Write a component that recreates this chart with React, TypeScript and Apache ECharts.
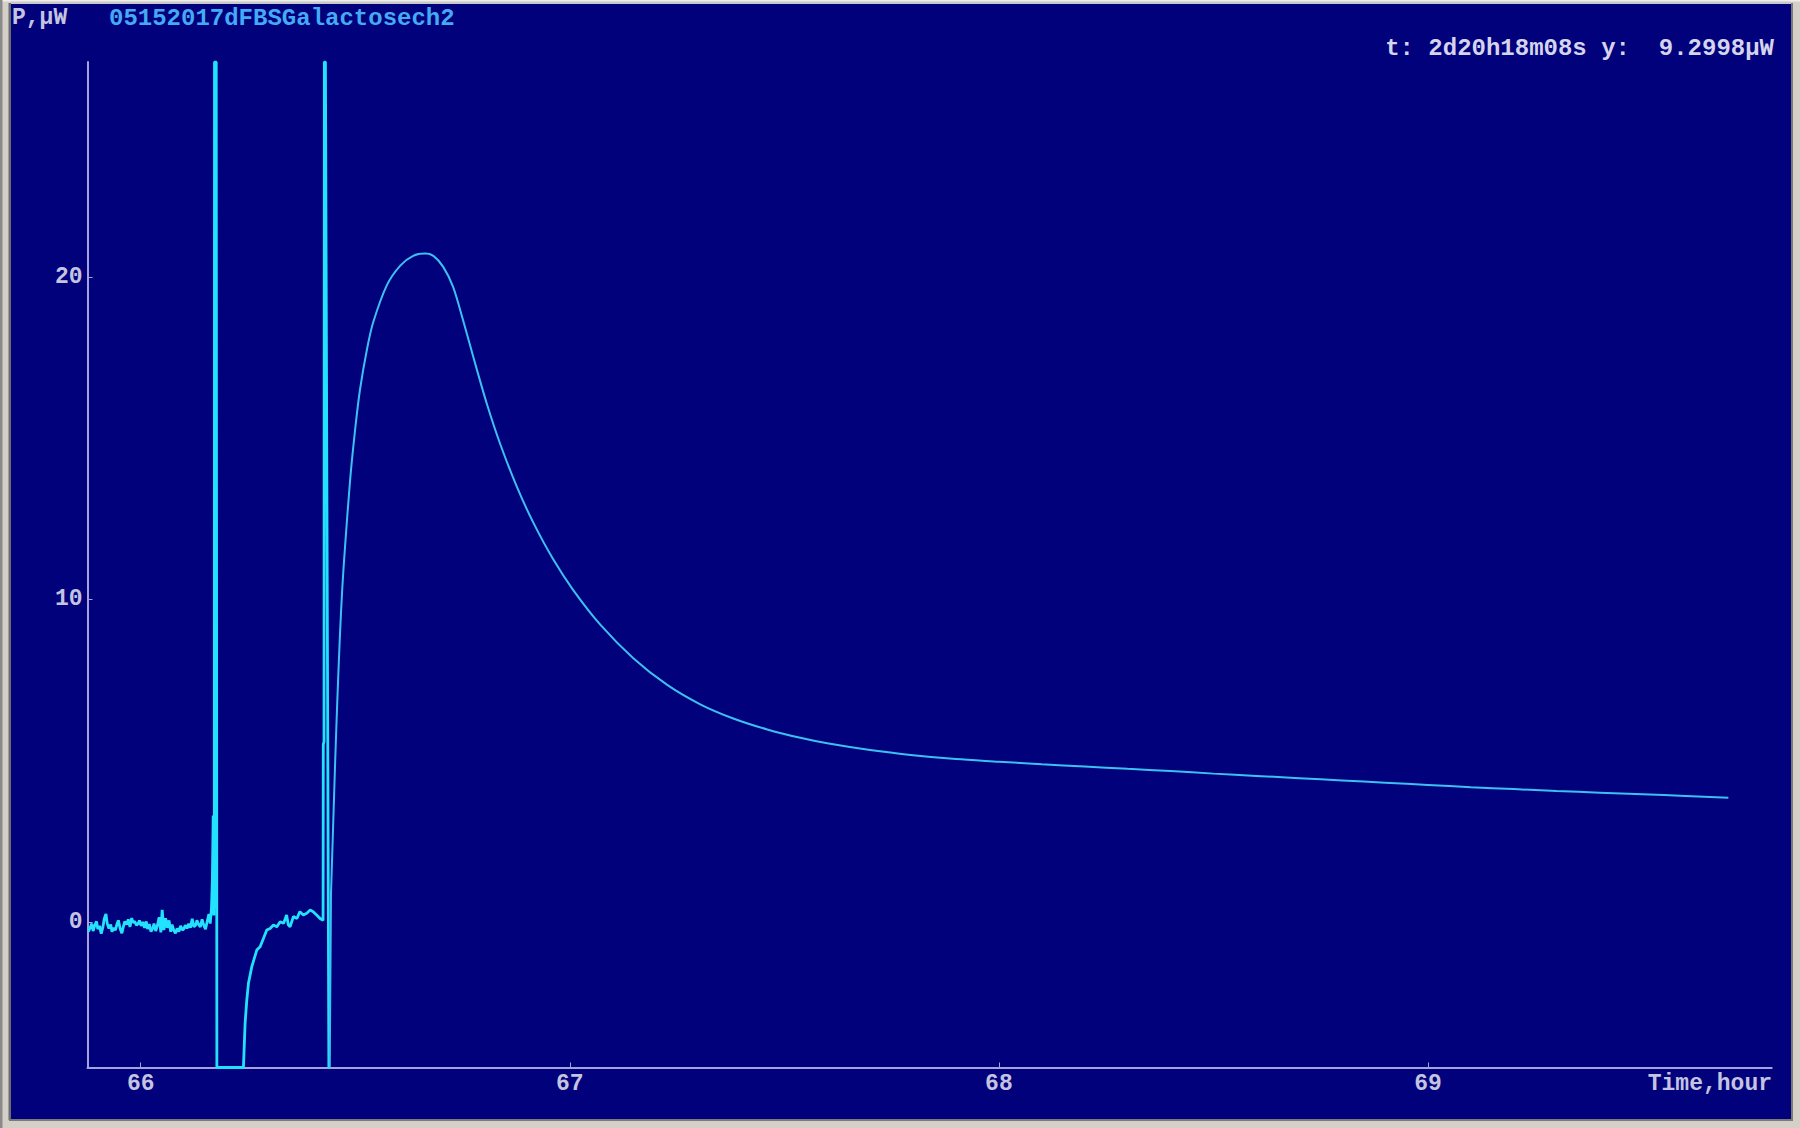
import React, { useEffect, useRef } from "react";
import * as echarts from "echarts";

// ---- Data (time in hours, power in µW) ----
const Y_MIN = -4.51;
const Y_MAX = 26.66;

const xTickValues = [66, 67, 68, 69];
const yTickValues = [0, 10, 20];

// baseline noise, first injection spike, recovery and second spike
const preSegment: [number, number][] = [
  [65.878, -0.3], [65.882, -0.18], [65.886, -0.05], [65.889, -0.28], [65.893, -0.1],
  [65.897, 0.02], [65.9, -0.22], [65.904, -0.12], [65.908, -0.36], [65.912, -0.15],
  [65.915, 0.1], [65.919, 0.25], [65.922, -0.05], [65.926, -0.2], [65.93, -0.08],
  [65.933, -0.3], [65.937, -0.18], [65.941, -0.25], [65.945, -0.05], [65.948, 0.05],
  [65.952, -0.2], [65.956, -0.35], [65.96, -0.12], [65.963, 0.02], [65.967, -0.08],
  [65.971, 0.08], [65.975, -0.15], [65.979, 0.12], [65.982, -0.02], [65.986, 0.02],
  [65.99, -0.1], [65.994, -0.05], [65.997, 0.05], [66.001, -0.12], [66.005, 0.0],
  [66.009, -0.18], [66.013, 0.02], [66.016, -0.22], [66.02, -0.06], [66.024, -0.3],
  [66.028, -0.2], [66.031, -0.05], [66.035, -0.28], [66.039, -0.1], [66.043, 0.15],
  [66.047, -0.32], [66.05, 0.38], [66.054, -0.25], [66.058, 0.12], [66.062, -0.18],
  [66.066, 0.05], [66.07, -0.3], [66.073, -0.08], [66.077, -0.25], [66.081, -0.35],
  [66.085, -0.2], [66.089, -0.3], [66.093, -0.12], [66.097, -0.25], [66.1, -0.22],
  [66.104, -0.1], [66.108, -0.2], [66.112, -0.05], [66.116, -0.18], [66.12, 0.1],
  [66.124, -0.15], [66.128, -0.1], [66.131, 0.05], [66.135, -0.08], [66.139, -0.15],
  [66.143, 0.08], [66.147, -0.1], [66.151, -0.22], [66.155, 0.02], [66.159, 0.25],
  [66.162, -0.05], [66.165, 0.45], [66.167, 1.3], [66.169, 3.3], [66.1705, 0.2],
  [66.1715, 1.5], [66.172, Y_MAX], [66.176, Y_MAX], [66.1775, Y_MIN], [66.2394, Y_MIN],
  [66.2433, -3.14], [66.2472, -2.42], [66.2511, -1.9], [66.2588, -1.39], [66.2705, -0.87],
  [66.2783, -0.77], [66.286, -0.51], [66.2938, -0.25], [66.3016, -0.2], [66.3094, -0.09],
  [66.317, -0.15], [66.325, 0.01], [66.333, -0.04], [66.34, 0.22], [66.344, -0.09],
  [66.348, -0.15], [66.356, 0.17], [66.364, 0.11], [66.371, 0.32], [66.379, 0.22],
  [66.387, 0.27], [66.395, 0.37], [66.402, 0.32], [66.41, 0.22], [66.418, 0.11],
  [66.425, 0.05], [66.4255, 5.5], [66.4272, 5.6], [66.428, Y_MAX], [66.4305, Y_MAX],
  [66.4385, Y_MIN], [66.4405, Y_MIN],
];

// steep onset of the main peak
const riseSegment: [number, number][] = [
  [66.4405, Y_MIN], [66.4435, 0.9], [66.4485, 3.0], [66.453, 4.9],
];

// main heat-flow peak and decay
const mainSegment: [number, number][] = [
  [66.453, 4.9], [66.458, 6.8], [66.464, 8.8], [66.47, 10.4], [66.476, 11.6],
  [66.488, 13.7], [66.5, 15.3], [66.511, 16.5], [66.528, 17.8], [66.542, 18.6],
  [66.574, 19.75], [66.605, 20.35], [66.635, 20.65], [66.663, 20.72], [66.682, 20.65],
  [66.705, 20.31], [66.728, 19.69], [66.751, 18.67], [66.775, 17.52], [66.807, 16.05],
  [66.838, 14.81], [66.877, 13.48], [66.915, 12.38], [66.961, 11.25], [67.008, 10.29],
  [67.071, 9.22], [67.148, 8.18], [67.227, 7.35], [67.304, 6.75], [67.381, 6.31],
  [67.46, 5.97], [67.537, 5.71], [67.6, 5.54], [67.7, 5.33], [67.8, 5.17],
  [67.9, 5.05], [68.0, 4.97], [68.1, 4.89], [68.2, 4.82], [68.3, 4.75],
  [68.4, 4.68], [68.5, 4.6], [68.6, 4.53], [68.7, 4.46], [68.8, 4.39],
  [68.9, 4.32], [69.0, 4.25], [69.1, 4.18], [69.2, 4.12], [69.3, 4.06],
  [69.4, 4.01], [69.5, 3.96], [69.6, 3.91], [69.7, 3.85],
];

const yUnitText = "P,µW";
const fileTitle = "05152017dFBSGalactosech2";
const cursorText = "t: 2d20h18m08s y:  9.2998µW";
const xAxisTitle = "Time,hour";

const NAVY = "#01017c";
const AXIS = "#a4a4dc";
const LABEL = "#c4c4e0";
const CURVE = "#3cc0f2";
const FONT = "'Liberation Mono', 'DejaVu Sans Mono', monospace";

export default function App() {
  const ref = useRef<HTMLDivElement>(null);

  useEffect(() => {
    if (!ref.current) return;
    const chart = echarts.init(ref.current, undefined, { renderer: "svg" });
    const frame = "#d4d0c8";
    const labelStyle = {
      color: LABEL,
      fontFamily: FONT,
      fontSize: 23,
      fontWeight: "bold",
      margin: 5,
      formatter: (v: number) => String(Math.round(v)),
    };
    chart.setOption({
      animation: false,
      backgroundColor: NAVY,
      grid: { left: 87.5, right: 28.3, top: 62, bottom: 60.5 },
      xAxis: {
        type: "value",
        min: 65.876,
        max: 69.801,
        axisLine: { show: true, onZero: false, lineStyle: { color: AXIS, width: 2 } },
        axisTick: {
          show: true,
          inside: true,
          length: 5,
          customValues: xTickValues,
          lineStyle: { color: AXIS, width: 1 },
        },
        axisLabel: { ...labelStyle, customValues: xTickValues },
        splitLine: { show: false },
      },
      yAxis: {
        type: "value",
        min: Y_MIN,
        max: Y_MAX,
        axisLine: { show: true, onZero: false, lineStyle: { color: AXIS, width: 2 } },
        axisTick: {
          show: true,
          inside: true,
          length: 5,
          customValues: yTickValues,
          lineStyle: { color: AXIS, width: 1 },
        },
        axisLabel: { ...labelStyle, customValues: yTickValues },
        splitLine: { show: false },
      },
      series: [
        {
          type: "line",
          data: preSegment,
          showSymbol: false,
          clip: true,
          lineStyle: { color: "#22e2ff", width: 2.8 },
          z: 3,
        },
        {
          type: "line",
          data: riseSegment,
          showSymbol: false,
          clip: true,
          lineStyle: { color: CURVE, width: 2 },
          z: 3,
        },
        {
          type: "line",
          data: mainSegment,
          showSymbol: false,
          clip: true,
          smooth: 0.3,
          lineStyle: { color: CURVE, width: 2 },
          z: 3,
        },
      ],
      graphic: [
        // window frame
        { type: "rect", shape: { x: 0, y: 0, width: 1800, height: 4 }, style: { fill: "#c8c8c8" }, z: 100 },
        { type: "rect", shape: { x: 0, y: 0, width: 1800, height: 1.5 }, style: { fill: "#eeeeee" }, z: 101 },
        { type: "rect", shape: { x: 0, y: 0, width: 11, height: 1128 }, style: { fill: frame }, z: 100 },
        { type: "rect", shape: { x: 0, y: 0, width: 2.5, height: 1128 }, style: { fill: "#8a8a8a" }, z: 101 },
        { type: "rect", shape: { x: 8.5, y: 3, width: 2.5, height: 1117 }, style: { fill: "#6c6c6c" }, z: 101 },
        { type: "rect", shape: { x: 1791, y: 0, width: 9, height: 1128 }, style: { fill: frame }, z: 100 },
        { type: "rect", shape: { x: 1791, y: 3, width: 2, height: 1117 }, style: { fill: "#7a7a7a" }, z: 101 },
        { type: "rect", shape: { x: 0, y: 1119, width: 1800, height: 9 }, style: { fill: frame }, z: 100 },
        { type: "rect", shape: { x: 9, y: 1119, width: 1784, height: 2 }, style: { fill: "#7a7a7a" }, z: 101 },
        // texts
        {
          type: "text",
          x: 12,
          y: 18,
          style: {
            text: yUnitText,
            fill: LABEL,
            font: `bold 23px ${FONT}`,
            verticalAlign: "middle",
          },
          z: 50,
        },
        {
          type: "text",
          x: 109,
          y: 18,
          style: {
            text: fileTitle,
            fill: "#44aaf4",
            font: `bold 24px ${FONT}`,
            verticalAlign: "middle",
          },
          z: 50,
        },
        {
          type: "text",
          x: 1774,
          y: 48,
          style: {
            text: cursorText,
            fill: "#d4d4ec",
            font: `bold 24px ${FONT}`,
            align: "right",
            verticalAlign: "middle",
          },
          z: 50,
        },
        {
          type: "text",
          x: 1772,
          y: 1084,
          style: {
            text: xAxisTitle,
            fill: LABEL,
            font: `bold 23px ${FONT}`,
            align: "right",
            verticalAlign: "middle",
          },
          z: 50,
        },
      ],
    });
    return () => chart.dispose();
  }, []);

  return (
    <div
      ref={ref}
      style={{ position: "fixed", left: 0, top: 0, width: 1800, height: 1128 }}
    />
  );
}
